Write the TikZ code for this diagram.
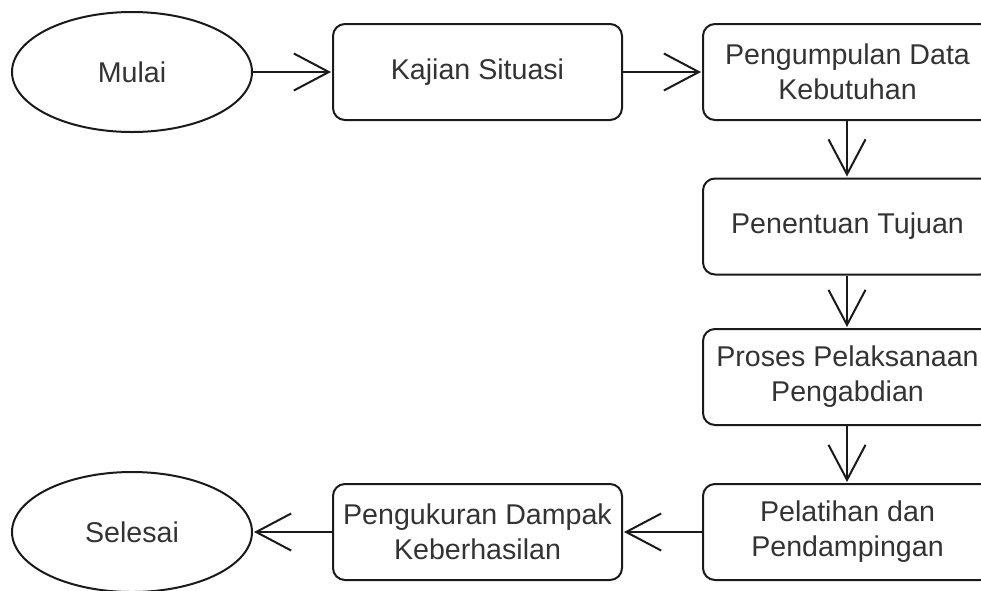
\documentclass[tikz,border=0pt]{standalone}
\usepackage{fontspec}
\setmainfont{Liberation Sans}
\usetikzlibrary{shapes.geometric,arrows.meta}
\definecolor{txt}{HTML}{333333}
\definecolor{ln}{HTML}{1A1A1A}
\tikzset{
  procbox/.style={draw=ln, line width=2pt, rounded corners=12pt, minimum width=289pt, minimum height=96pt, align=center, text=txt, font=\fontsize{28.6pt}{35pt}\selectfont, inner sep=0pt},
  termnode/.style={draw=ln, line width=2pt, ellipse, minimum width=240pt, minimum height=120pt, inner sep=0pt, text=txt, font=\fontsize{28.6pt}{35pt}\selectfont},
  flow/.style={draw=ln, line width=2pt, -{Straight Barb[length=35pt,width=37pt,line width=2pt]}, shorten >=1pt}
}
\begin{document}
\begin{tikzpicture}[x=1pt,y=-1pt]
\useasboundingbox (0,0) rectangle (981,590);
\clip (0,0) rectangle (981,590);
\node[termnode] (mulai) at (132,72) {Mulai};
\node[procbox] (kajian) at (477.5,72) {Kajian Situasi};
\node[procbox] (pengumpulan) at (847.5,72) {Pengumpulan Data\\Kebutuhan};
\node[procbox] (penentuan) at (847.5,226.5) {Penentuan Tujuan};
\node[procbox] (proses) at (847.5,377) {Proses Pelaksanaan\\Pengabdian};
\node[procbox] (pelatihan) at (847.5,532) {Pelatihan dan\\Pendampingan};
\node[procbox] (pengukuran) at (477.5,532) {Pengukuran Dampak\\Keberhasilan};
\node[termnode] (selesai) at (132,532) {Selesai};
\draw[flow] (mulai) -- (kajian);
\draw[flow] (kajian) -- (pengumpulan);
\draw[flow] (pengumpulan.south -| 847,0) -- (penentuan.north -| 847,0);
\draw[flow] (penentuan.south -| 847,0) -- (proses.north -| 847,0);
\draw[flow] (proses.south -| 847,0) -- (pelatihan.north -| 847,0);
\draw[flow] (pelatihan) -- (pengukuran);
\draw[flow] (pengukuran) -- (selesai);
\end{tikzpicture}
\end{document}
